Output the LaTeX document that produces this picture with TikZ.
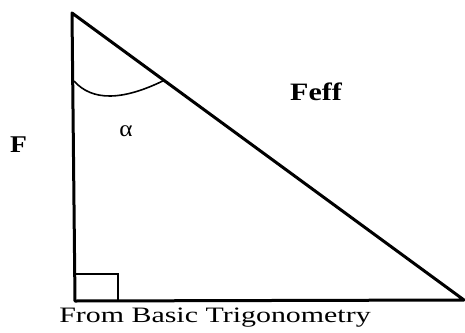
\documentclass[tikz,border=0pt]{standalone}
\usepackage{fontspec}
\setmainfont{Liberation Serif}
\begin{document}
\begin{tikzpicture}[x=1pt,y=-1pt,
  side/.style={line width=3pt,line cap=round,line join=round},
  arcline/.style={line width=1.6pt},
  lbl/.style={inner sep=0pt,anchor=base}]
\useasboundingbox (0,0) rectangle (465,332);
\coordinate (A) at (72,13);
\coordinate (B) at (75,301);
\coordinate (C) at (464,300);
\coordinate (S1) at (75,274);
\coordinate (S2) at (118,274);
\coordinate (S3) at (118,301);
\coordinate (P) at (74,81);
\coordinate (Q) at (164,80.4);
\draw[side] (A) -- (B) -- (C) -- cycle;
\draw[line width=2.4pt] (S1) -- (S2) -- (S3);
\draw[arcline] (P) .. controls (92,101.2) and (122,101) .. (Q);
\node[lbl,font=\bfseries\fontsize{24}{24}\selectfont,xscale=1.15] (F) at (18.5,152) {F};
\node[lbl,font=\bfseries\fontsize{25}{25}\selectfont,xscale=1.2] (Feff) at (316,100) {Feff};
\node[lbl,font=\fontsize{23}{23}\selectfont,xscale=1.1] (alpha) at (126,136) {α};
\node[lbl,font=\fontsize{22}{22}\selectfont,xscale=1.36] (cap) at (215,322.7) {From Basic Trigonometry};
\end{tikzpicture}
\end{document}
